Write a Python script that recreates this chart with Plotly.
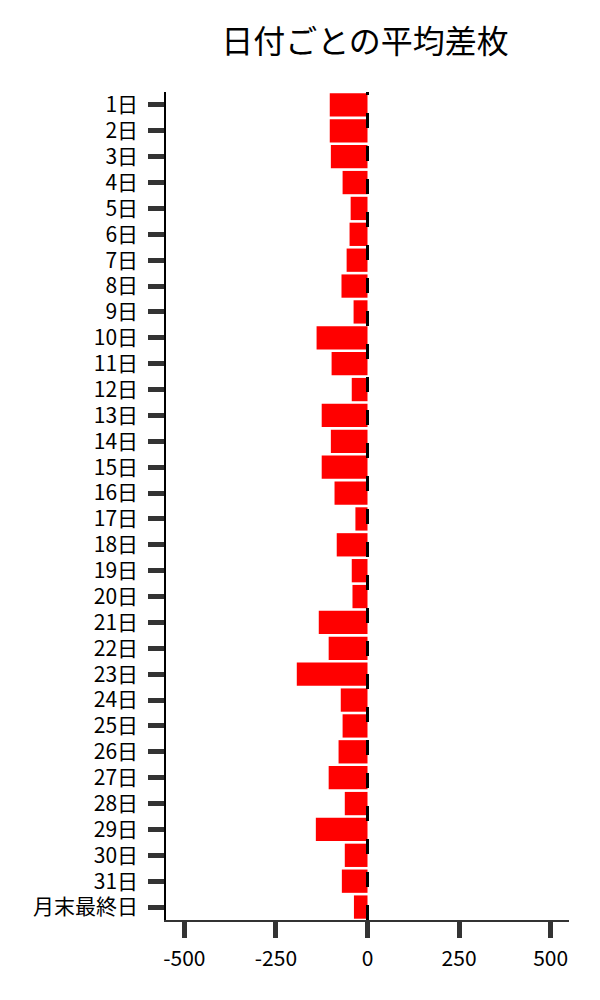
import plotly.graph_objects as go

# average difference per day of month
days = [f"{d}日" for d in range(1, 32)] + ["月末最終日"]
avg_diff = [
    -103, -103, -100, -68, -46, -49, -57, -71, -38, -139,
    -98, -43, -125, -100, -125, -90, -33, -84, -43, -41,
    -133, -106, -193, -73, -68, -79, -106, -62, -141, -62,
    -70, -37,
]
x_ticks = [-500, -250, 0, 250, 500]

FONT = "Noto Sans CJK JP"

fig = go.Figure()

fig.add_trace(
    go.Bar(
        x=avg_diff,
        y=days,
        orientation="h",
        marker=dict(color="#ff0000", line=dict(width=0)),
        showlegend=False,
    )
)

# dashed zero line on top of the bars
fig.add_vline(x=0, line=dict(color="black", width=3, dash="15px,18px"), layer="above")

fig.update_layout(
    title=dict(
        text="日付ごとの平均差枚",
        x=0.595,
        xanchor="center",
        y=0.966,
        yanchor="middle",
        font=dict(family=FONT, size=32, color="black"),
    ),
    width=600,
    height=1000,
    margin=dict(l=158, r=39, t=84, b=88),
    plot_bgcolor="white",
    paper_bgcolor="white",
    bargap=0.1,
    font=dict(family=FONT, size=21, color="black"),
)

fig.update_xaxes(
    range=[-550, 550],
    tickvals=x_ticks,
    ticktext=[str(v) for v in x_ticks],
    showgrid=False,
    zeroline=False,
    showline=True,
    linecolor="#333333",
    linewidth=1.5,
    ticks="outside",
    ticklen=16,
    tickwidth=5,
    tickcolor="#333333",
    ticklabelstandoff=3,
    tickfont=dict(family=FONT, size=21, color="black"),
)

fig.update_yaxes(
    autorange="reversed",
    showgrid=False,
    zeroline=False,
    showline=True,
    linecolor="black",
    linewidth=1.5,
    ticks="outside",
    ticklen=16,
    tickwidth=5,
    tickcolor="#333333",
    ticklabelstandoff=6,
    tickfont=dict(family=FONT, size=21, color="black"),
)

fig.write_html("out.html")
